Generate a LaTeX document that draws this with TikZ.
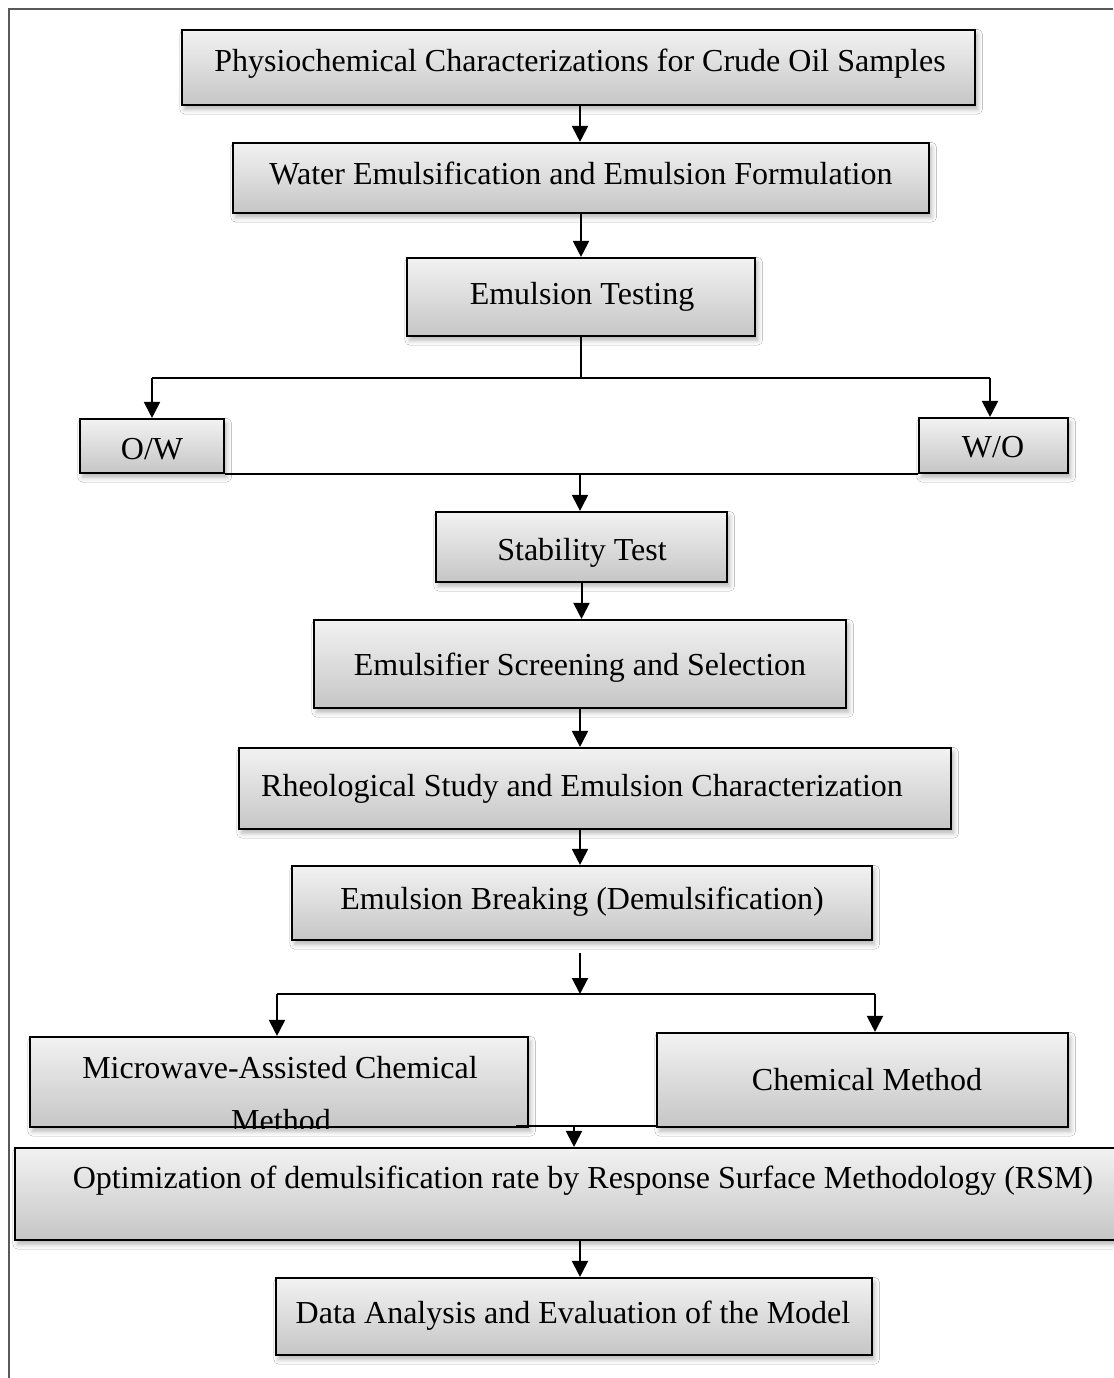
\documentclass[tikz,border=0pt]{standalone}
\usepackage{fontspec}
\setmainfont{Liberation Serif}
\usetikzlibrary{arrows.meta,shadows.blur,fit}
\begin{document}
\begin{tikzpicture}[x=0.375pt,y=-0.375pt,
  stepbox/.style={draw=black, line width=0.8pt, top color=gray!10, bottom color=gray!45,
    inner sep=0pt,
    blur shadow={shadow xshift=1pt, shadow yshift=-1.6pt, shadow blur radius=1.8pt, shadow opacity=30}},
  lbl/.style={font=\fontsize{12}{14}\selectfont, anchor=base, inner sep=0pt},
  arr/.style={line width=0.75pt, -{Triangle[length=6pt,width=6pt]}},
  conn/.style={line width=0.75pt},
  frame/.style={draw=black!65, line width=0.8pt}]
\useasboundingbox (0,0) rectangle (1113,1378);
\fill[white] (0,0) rectangle (1113,1378);
% outer frame (top and left edges)
\draw[frame] (1113,9) -- (9,9) -- (9,1378);

% boxes
\node[stepbox, fit={(182,30) (975,105)}] (b1) {};
\node[stepbox, fit={(233,143) (929,213)}] (b2) {};
\node[stepbox, fit={(407,258) (755,336)}] (b3) {};
\node[stepbox, fit={(80,419) (224,473)}] (ow) {};
\node[stepbox, fit={(919,418) (1068,473)}] (wo) {};
\node[stepbox, fit={(436,512) (727,582)}] (b4) {};
\node[stepbox, fit={(314,620) (846,708)}] (b5) {};
\node[stepbox, fit={(239,748) (951,829)}] (b6) {};
\node[stepbox, fit={(292,866) (872,940)}] (b7) {};
\node[stepbox, fit={(30,1037) (528,1127)}] (mw) {};
\node[stepbox, fit={(657,1033) (1068,1127)}] (ch) {};
\node[stepbox, fit={(15,1148) (1125,1240)}] (b8) {};
\node[stepbox, fit={(276,1278) (872,1355)}] (b9) {};

% texts
\node[lbl] (t1) at (580,71) {Physiochemical Characterizations for Crude Oil Samples};
\node[lbl] (t2) at (581,184) {Water Emulsification and Emulsion Formulation};
\node[lbl] (t3) at (582,304) {Emulsion Testing};
\node[lbl] (tow) at (152,459) {O/W};
\node[lbl] (two) at (993,457) {W/O};
\node[lbl] (t4) at (582,560) {Stability Test};
\node[lbl] (t5) at (580,675) {Emulsifier Screening and Selection};
\node[lbl] (t6) at (582,796) {Rheological Study and Emulsion Characterization};
\node[lbl] (t7) at (582,909) {Emulsion Breaking (Demulsification)};
\node[lbl] (tmw) at (280,1078) {Microwave-Assisted Chemical};
\begin{scope}
  \clip (mw.south west) rectangle (mw.north east);
  \node[lbl] (tmw2) at (281,1131) {Method};
\end{scope}
\node[lbl] (tch) at (867,1090) {Chemical Method};
\node[lbl] (t8) at (583,1188) {Optimization of demulsification rate by Response Surface Methodology (RSM)};
\node[lbl] (t9) at (573,1323) {Data Analysis and Evaluation of the Model};

% connectors
\coordinate (j1) at (581,378);
\coordinate (j2) at (580,953);
\coordinate (j3) at (580,994);
\coordinate (jl) at (277,994);
\coordinate (jr) at (875,994);
\coordinate (j5) at (516,1126);
\coordinate (j6) at (574,1126);

\draw[arr] (580,105) -- (b2.north -| 580,0);
\draw[arr] (581,213) -- (b3.north -| 581,0);
\draw[conn] (b3.south) -- (j1);
\draw[conn] (152,378) -- (990,378);
\draw[arr] (152,378) -- (ow.north);
\draw[arr] (990,378) -- (wo.north -| 990,0);
\draw[conn] (ow.south east) -- (ow.south east -| wo.west);
\draw[arr] (580,473) -- (b4.north -| 580,0);
\draw[arr] (b4.south) -- (b5.north -| b4.south);
\draw[arr] (580,708) -- (b6.north -| 580,0);
\draw[arr] (580,829) -- (b7.north -| 580,0);
\draw[arr] (j2) -- (j3);
\draw[conn] (jl) -- (jr);
\draw[arr] (jl) -- (mw.north -| jl);
\draw[arr] (jr) -- (ch.north -| jr);
\draw[conn] (j5) -- (j5 -| ch.west);
\draw[arr] (j6) -- (b8.north -| j6);
\draw[arr] (580,1240) -- (b9.north -| 580,0);
\end{tikzpicture}
\end{document}
